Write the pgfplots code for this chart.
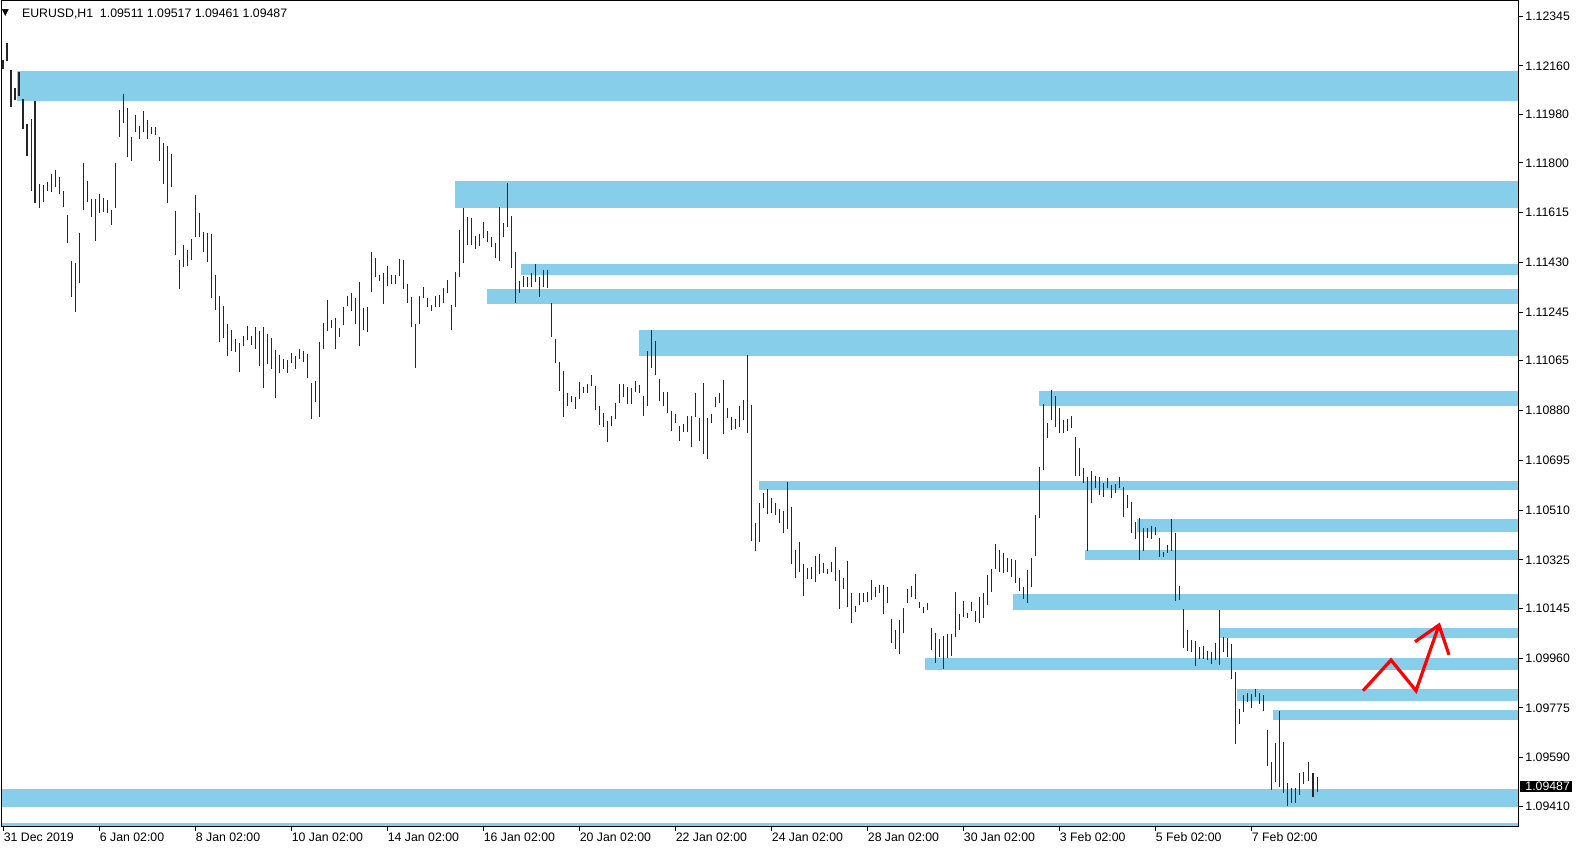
\documentclass[border=0pt]{standalone}
\usepackage{fontspec}
\setmainfont{Liberation Sans}
\newfontfamily\symfont{DejaVu Sans}
\usepackage{pgfplots}
\usepackage{pgfplotstable}
\pgfplotsset{compat=1.18}
\definecolor{zone}{RGB}{135,206,235}
\newcommand\lbl{\fontsize{6.15}{7}\selectfont}
\pgfplotstableread{
x lo hi
3.3 1.12149 1.12182
7.3 1.12178 1.12245
11.3 1.12008 1.12145
15.3 1.12034 1.12078
19.3 1.12048 1.12138
23.3 1.11926 1.12037
27.3 1.11826 1.11944
31.3 1.11695 1.11963
35.3 1.11651 1.12031
39.3 1.11632 1.11721
43.3 1.11655 1.11718
47.3 1.11695 1.11729
51.3 1.11692 1.11759
55.3 1.11710 1.11773
59.3 1.11684 1.11747
63.3 1.11636 1.11695
67.3 1.11502 1.11606
71.3 1.11302 1.11435
75.3 1.11246 1.11428
79.3 1.11354 1.11539
83.3 1.11625 1.11800
87.3 1.11655 1.11733
91.3 1.11599 1.11666
95.3 1.11510 1.11666
99.3 1.11614 1.11684
103.3 1.11617 1.11669
107.3 1.11614 1.11662
111.3 1.11569 1.11625
115.3 1.11632 1.11800
119.3 1.11896 1.11996
123.3 1.11948 1.12056
127.3 1.11822 1.12004
131.3 1.11807 1.11896
135.3 1.11915 1.11978
139.3 1.11889 1.11937
143.3 1.11915 1.11993
147.3 1.11889 1.11959
151.3 1.11907 1.11933
155.3 1.11904 1.11933
159.3 1.11807 1.11896
163.3 1.11721 1.11874
167.3 1.11651 1.11863
171.3 1.11710 1.11833
175.3 1.11458 1.11621
179.3 1.11331 1.11439
183.3 1.11413 1.11495
187.3 1.11417 1.11476
191.3 1.11439 1.11517
195.3 1.11525 1.11681
199.3 1.11525 1.11614
203.3 1.11469 1.11543
207.3 1.11432 1.11539
211.3 1.11298 1.11536
215.3 1.11253 1.11383
219.3 1.11135 1.11305
223.3 1.11149 1.11268
227.3 1.11082 1.11201
231.3 1.11101 1.11179
235.3 1.11097 1.11146
239.3 1.11023 1.11131
243.3 1.11120 1.11157
247.3 1.11142 1.11194
251.3 1.11123 1.11157
255.3 1.11109 1.11190
259.3 1.11045 1.11175
263.3 1.10964 1.11190
267.3 1.11053 1.11164
271.3 1.11034 1.11149
275.3 1.10926 1.11105
279.3 1.11019 1.11086
283.3 1.11034 1.11071
287.3 1.11019 1.11068
291.3 1.11057 1.11094
295.3 1.11034 1.11082
299.3 1.11071 1.11109
303.3 1.11060 1.11101
307.3 1.11001 1.11090
311.3 1.10848 1.10982
315.3 1.10912 1.10990
319.3 1.10856 1.11135
323.3 1.11109 1.11205
327.3 1.11175 1.11291
331.3 1.11187 1.11216
335.3 1.11109 1.11224
339.3 1.11153 1.11187
343.3 1.11198 1.11265
347.3 1.11268 1.11305
351.3 1.11250 1.11317
355.3 1.11201 1.11298
359.3 1.11120 1.11357
363.3 1.11179 1.11261
367.3 1.11172 1.11265
371.3 1.11320 1.11469
375.3 1.11376 1.11447
379.3 1.11361 1.11383
383.3 1.11276 1.11391
387.3 1.11343 1.11417
391.3 1.11350 1.11383
395.3 1.11350 1.11383
399.3 1.11380 1.11443
403.3 1.11331 1.11439
407.3 1.11279 1.11350
411.3 1.11190 1.11302
415.3 1.11038 1.11201
419.3 1.11201 1.11305
423.3 1.11298 1.11339
427.3 1.11265 1.11298
431.3 1.11250 1.11272
435.3 1.11265 1.11305
439.3 1.11265 1.11309
443.3 1.11279 1.11335
447.3 1.11317 1.11365
451.3 1.11179 1.11272
455.3 1.11265 1.11395
459.3 1.11376 1.11551
463.3 1.11428 1.11632
467.3 1.11495 1.11599
471.3 1.11495 1.11595
475.3 1.11480 1.11528
479.3 1.11491 1.11536
483.3 1.11521 1.11580
487.3 1.11506 1.11547
491.3 1.11487 1.11525
495.3 1.11447 1.11502
499.3 1.11435 1.11636
503.3 1.11525 1.11577
507.3 1.11562 1.11725
511.3 1.11409 1.11603
515.3 1.11279 1.11469
519.3 1.11317 1.11361
523.3 1.11339 1.11380
527.3 1.11339 1.11376
531.3 1.11339 1.11391
535.3 1.11357 1.11424
539.3 1.11302 1.11376
543.3 1.11339 1.11402
547.3 1.11335 1.11402
551.3 1.11153 1.11279
555.3 1.11057 1.11146
559.3 1.10952 1.11060
563.3 1.10856 1.11027
567.3 1.10897 1.10945
571.3 1.10912 1.10934
575.3 1.10886 1.10930
579.3 1.10923 1.10986
583.3 1.10945 1.10967
587.3 1.10945 1.10978
591.3 1.10971 1.11012
595.3 1.10882 1.10971
599.3 1.10826 1.10897
603.3 1.10819 1.10871
607.3 1.10763 1.10841
611.3 1.10822 1.10860
615.3 1.10848 1.10908
619.3 1.10908 1.10978
623.3 1.10930 1.10978
627.3 1.10904 1.10967
631.3 1.10904 1.10964
635.3 1.10949 1.10990
639.3 1.10945 1.10975
643.3 1.10860 1.10934
647.3 1.10897 1.11101
651.3 1.11038 1.11179
655.3 1.11012 1.11138
659.3 1.10915 1.10997
663.3 1.10897 1.10949
667.3 1.10871 1.10949
671.3 1.10804 1.10878
675.3 1.10834 1.10867
679.3 1.10767 1.10822
683.3 1.10800 1.10830
687.3 1.10800 1.10860
691.3 1.10744 1.10860
695.3 1.10856 1.10945
699.3 1.10767 1.10852
703.3 1.10718 1.10982
707.3 1.10700 1.10852
711.3 1.10834 1.10867
715.3 1.10893 1.10930
719.3 1.10908 1.10945
723.3 1.10793 1.10993
727.3 1.10852 1.10889
731.3 1.10808 1.10856
735.3 1.10811 1.10848
739.3 1.10819 1.10897
743.3 1.10845 1.10919
747.3 1.10796 1.11086
751.3 1.10395 1.10900
755.3 1.10358 1.10462
759.3 1.10392 1.10536
763.3 1.10518 1.10574
767.3 1.10496 1.10588
771.3 1.10499 1.10555
775.3 1.10492 1.10536
779.3 1.10462 1.10514
783.3 1.10425 1.10507
787.3 1.10440 1.10614
791.3 1.10310 1.10522
795.3 1.10258 1.10362
799.3 1.10280 1.10392
803.3 1.10191 1.10310
807.3 1.10254 1.10295
811.3 1.10254 1.10299
815.3 1.10243 1.10340
819.3 1.10273 1.10347
823.3 1.10276 1.10314
827.3 1.10273 1.10291
831.3 1.10280 1.10317
835.3 1.10247 1.10373
839.3 1.10143 1.10287
843.3 1.10217 1.10258
847.3 1.10150 1.10321
851.3 1.10091 1.10202
855.3 1.10131 1.10154
859.3 1.10157 1.10202
863.3 1.10169 1.10202
867.3 1.10169 1.10206
871.3 1.10176 1.10250
875.3 1.10187 1.10224
879.3 1.10202 1.10232
883.3 1.10124 1.10232
887.3 1.10165 1.10224
891.3 1.10016 1.10105
895.3 1.09994 1.10064
899.3 1.09975 1.10102
903.3 1.10053 1.10146
907.3 1.10165 1.10217
911.3 1.10187 1.10228
915.3 1.10180 1.10273
919.3 1.10146 1.10169
923.3 1.10128 1.10150
927.3 1.10139 1.10165
931.3 1.09990 1.10072
935.3 1.09942 1.10053
939.3 1.09964 1.10031
943.3 1.09920 1.10042
947.3 1.09960 1.10050
951.3 1.09968 1.10050
955.3 1.10039 1.10206
959.3 1.10064 1.10124
963.3 1.10113 1.10172
967.3 1.10109 1.10128
971.3 1.10135 1.10169
975.3 1.10094 1.10135
979.3 1.10091 1.10187
983.3 1.10109 1.10202
987.3 1.10157 1.10269
991.3 1.10206 1.10291
995.3 1.10291 1.10384
999.3 1.10280 1.10362
1003.3 1.10276 1.10351
1007.3 1.10280 1.10332
1011.3 1.10261 1.10328
1015.3 1.10239 1.10325
1019.3 1.10209 1.10258
1023.3 1.10180 1.10224
1027.3 1.10165 1.10287
1031.3 1.10224 1.10332
1035.3 1.10340 1.10492
1039.3 1.10481 1.10670
1043.3 1.10659 1.10904
1047.3 1.10778 1.10834
1051.3 1.10845 1.10956
1055.3 1.10819 1.10934
1059.3 1.10796 1.10889
1063.3 1.10796 1.10845
1067.3 1.10804 1.10848
1071.3 1.10815 1.10860
1075.3 1.10637 1.10782
1079.3 1.10637 1.10741
1083.3 1.10611 1.10666
1087.3 1.10358 1.10633
1091.3 1.10536 1.10655
1095.3 1.10592 1.10637
1099.3 1.10566 1.10633
1103.3 1.10559 1.10611
1107.3 1.10592 1.10629
1111.3 1.10555 1.10603
1115.3 1.10574 1.10607
1119.3 1.10592 1.10633
1123.3 1.10484 1.10596
1127.3 1.10518 1.10566
1131.3 1.10425 1.10540
1135.3 1.10403 1.10466
1139.3 1.10325 1.10481
1143.3 1.10358 1.10444
1147.3 1.10406 1.10444
1151.3 1.10403 1.10451
1155.3 1.10418 1.10447
1159.3 1.10336 1.10406
1163.3 1.10336 1.10354
1167.3 1.10351 1.10380
1171.3 1.10358 1.10477
1175.3 1.10172 1.10425
1179.3 1.10176 1.10228
1183.3 1.09998 1.10143
1187.3 1.09987 1.10064
1191.3 1.09983 1.10027
1195.3 1.09931 1.10024
1199.3 1.09957 1.10001
1203.3 1.09957 1.10005
1207.3 1.09953 1.09987
1211.3 1.09938 1.09983
1215.3 1.09953 1.10016
1219.3 1.09935 1.10139
1223.3 1.09983 1.10039
1227.3 1.09964 1.10035
1231.3 1.09883 1.10013
1235.3 1.09641 1.09909
1239.3 1.09715 1.09771
1243.3 1.09760 1.09823
1247.3 1.09797 1.09831
1251.3 1.09775 1.09827
1255.3 1.09816 1.09845
1259.3 1.09790 1.09831
1263.3 1.09764 1.09823
1267.3 1.09559 1.09693
1271.3 1.09470 1.09574
1275.3 1.09500 1.09645
1279.3 1.09481 1.09764
1283.3 1.09459 1.09649
1287.3 1.09411 1.09496
1291.3 1.09422 1.09478
1295.3 1.09422 1.09478
1299.3 1.09452 1.09533
1303.3 1.09492 1.09537
1308.3 1.09504 1.09574
1312.8 1.09444 1.09533
1317.3 1.09461 1.09517
}\bars
\newcommand\zone[3]{\addplot[fill=zone,draw=none] coordinates {(#1,#2)(1518,#2)(1518,#3)(#1,#3)} --cycle;}
\begin{document}
\begin{tikzpicture}
\useasboundingbox (0,0) rectangle (791pt,425pt);
\begin{axis}[
  at={(1pt,12pt)}, anchor=south west,
  scale only axis, width=758pt, height=412.5pt,
  xmin=2, xmax=1518, ymin=1.093364, ymax=1.124013,
  clip=false,
  axis line style={line width=0.5pt, black},
  tick align=outside, major tick length=2.5pt,
  major tick style={line width=0.5pt, black},
  xtick pos=left, ytick pos=right,
  scaled x ticks=false, scaled y ticks=false,
  xtick={3.5,99.5,195.5,291.5,387.5,483.5,579.5,675.5,771.5,867.5,963.5,1059.5,1155.5,1251.5},
  xticklabels={31 Dec 2019,6 Jan 02:00,8 Jan 02:00,10 Jan 02:00,14 Jan 02:00,16 Jan 02:00,20 Jan 02:00,22 Jan 02:00,24 Jan 02:00,28 Jan 02:00,30 Jan 02:00,3 Feb 02:00,5 Feb 02:00,7 Feb 02:00},
  ytick={1.12345,1.12160,1.11980,1.11800,1.11615,1.11430,1.11245,1.11065,1.10880,1.10695,1.10510,1.10325,1.10145,1.09960,1.09775,1.09590,1.09410},
  yticklabels={1.12345,1.12160,1.11980,1.11800,1.11615,1.11430,1.11245,1.11065,1.10880,1.10695,1.10510,1.10325,1.10145,1.09960,1.09775,1.09590,1.09410},
  every tick label/.append style={font=\lbl},
  xticklabel style={anchor=north west, inner sep=0pt, yshift=-0.6pt},
  yticklabel style={anchor=west, inner sep=0pt, xshift=1pt},
]
\zone{17}{1.12030}{1.12141}
\zone{455}{1.11632}{1.11733}
\zone{521}{1.11383}{1.11424}
\zone{487}{1.11276}{1.11331}
\zone{639}{1.11082}{1.11179}
\zone{1039}{1.10897}{1.10952}
\zone{759}{1.10585}{1.10618}
\zone{1137}{1.10429}{1.10477}
\zone{1085}{1.10325}{1.10362}
\zone{1013}{1.10139}{1.10198}
\zone{1220}{1.10035}{1.10072}
\zone{925}{1.09916}{1.09960}
\zone{1237}{1.09801}{1.09845}
\zone{1273}{1.09730}{1.09767}
\zone{2}{1.09407}{1.09474}
\zone{2}{1.093364}{1.09348}
\addplot[draw=none, mark=none,
  error bars/.cd, y dir=plus, y explicit, error mark=none,
  error bar style={draw=black!85, line width=0.8pt}]
  table[x=x, y=lo, y error plus expr=\thisrow{hi}-\thisrow{lo}] {\bars};
\addplot[red, line width=1.6pt] coordinates {(1363,1.09839)(1391,1.09953)(1416,1.09839)(1439,1.10083)};
\addplot[red, line width=1.6pt] coordinates {(1415,1.10021)(1439,1.10083)(1449,1.09972)};
\fill[black] (axis cs:1520,1.09464) rectangle (axis cs:1572,1.09505);
\node[anchor=west, inner sep=0pt, text=white, font=\lbl] at (axis cs:1525,1.094845) {1.09487};
\node[anchor=base west, inner sep=0pt, font=\lbl] at (axis cs:21.7,1.12341) {EURUSD,H1\ \ 1.09511 1.09517 1.09461 1.09487};
\node[inner sep=0pt, font=\symfont\fontsize{4.6}{4.6}\selectfont] at (axis cs:5.5,1.12357) {▼};
\end{axis}
\end{tikzpicture}
\end{document}
